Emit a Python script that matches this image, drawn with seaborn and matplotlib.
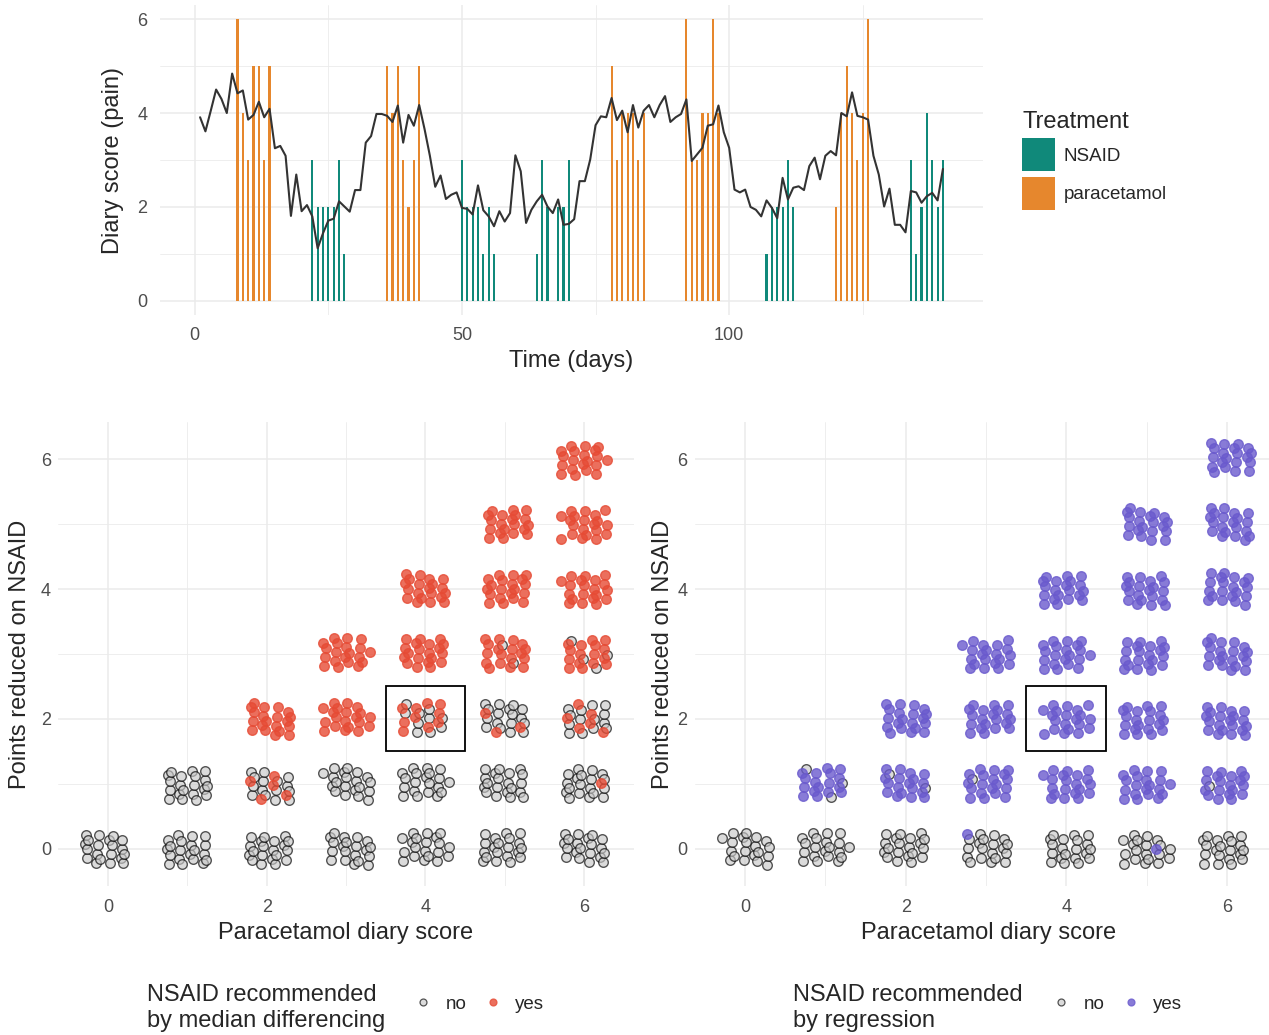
import numpy as np
import pandas as pd
import matplotlib
matplotlib.use("Agg")
import matplotlib.pyplot as plt
from matplotlib.patches import Patch, Rectangle
from matplotlib.lines import Line2D
import seaborn as sns

# ---------------- data ----------------
days = list(range(1, 141))
diary_score = [
    3.91, 3.61, 4.05, 4.50, 4.30, 4.00, 4.84, 4.42, 4.48, 3.86,
    3.96, 4.24, 3.91, 4.09, 3.25, 3.30, 3.09, 1.81, 2.69, 1.91,
    2.04, 1.80, 1.12, 1.44, 1.71, 1.75, 2.12, 2.01, 1.90, 2.36,
    2.36, 3.37, 3.51, 3.98, 3.98, 3.94, 3.81, 4.16, 3.37, 3.96,
    3.73, 4.17, 3.66, 3.09, 2.43, 2.67, 2.17, 2.26, 2.31, 1.98,
    1.96, 1.84, 2.46, 1.93, 1.80, 1.59, 1.91, 1.69, 1.87, 3.10,
    2.76, 1.66, 1.94, 2.12, 2.26, 2.01, 1.87, 2.16, 1.62, 1.64,
    1.74, 2.55, 2.55, 3.01, 3.74, 3.93, 3.91, 4.32, 3.85, 4.05,
    3.59, 4.17, 3.69, 4.05, 4.17, 3.91, 4.17, 4.36, 3.81, 3.91,
    3.98, 4.29, 2.98, 3.12, 3.26, 3.73, 3.76, 4.16, 3.59, 3.26,
    2.37, 2.31, 2.37, 2.00, 1.94, 1.80, 2.14, 1.98, 1.76, 2.62,
    2.16, 2.41, 2.44, 2.36, 2.87, 3.05, 2.59, 3.09, 3.19, 3.10,
    4.00, 3.93, 4.44, 3.94, 3.91, 3.86, 3.09, 2.69, 2.01, 2.39,
    1.62, 1.62, 1.46, 2.34, 2.31, 2.09, 2.23, 2.30, 2.14, 2.81,
]

treat_days = (list(range(8, 15)) + list(range(22, 29)) + list(range(36, 43))
              + list(range(50, 57)) + list(range(64, 71)) + list(range(78, 85))
              + list(range(92, 99)) + list(range(106, 113)) + list(range(120, 127))
              + list(range(134, 141)))
treat_scores = [6, 4, 3, 5, 5, 3, 5,
                3, 2, 2, 2, 2, 3, 1,
                5, 4, 5, 3, 2, 3, 5,
                3, 2, 2, 2, 1, 2, 1,
                1, 3, 2, 0, 2, 2, 3,
                5, 3, 4, 4, 4, 3, 4,
                6, 3, 3, 4, 4, 6, 4,
                0, 1, 2, 2, 2, 3, 2,
                2, 4, 5, 4, 3, 4, 6,
                3, 1, 2, 4, 3, 2, 3]
treat_names = (["paracetamol"] * 7 + ["NSAID"] * 7 + ["paracetamol"] * 7
               + ["NSAID"] * 7 + ["NSAID"] * 7 + ["paracetamol"] * 7
               + ["paracetamol"] * 7 + ["NSAID"] * 7 + ["paracetamol"] * 7
               + ["NSAID"] * 7)

# bottom panels: number of observations per (paracetamol score, points reduced)
cell_counts = [
    [20],
    [20, 20],
    [20, 20, 20],
    [20, 20, 20, 20],
    [20, 20, 20, 20, 20],
    [20, 20, 20, 20, 20, 20],
    [20, 20, 20, 20, 20, 20, 20],
]
yes_median = [
    [0],
    [0, 0],
    [0, 5, 20],
    [0, 0, 20, 20],
    [0, 0, 10, 20, 20],
    [0, 0, 3, 18, 20, 20],
    [0, 1, 6, 16, 20, 20, 20],
]
yes_regression = [
    [0],
    [0, 17],
    [0, 18, 20],
    [1, 19, 20, 20],
    [0, 20, 20, 20, 20],
    [1, 20, 20, 20, 20, 20],
    [0, 19, 20, 20, 20, 20, 20],
]

# ---------------- style ----------------
sns.set_theme(style="white")
plt.rcParams["font.family"] = ["Liberation Sans", "DejaVu Sans"]

W, H = 1269, 1035
fig = plt.figure(figsize=(W / 100, H / 100), dpi=100)

TEAL = "#10897A"
ORANGE = "#E6872D"
GRID = "#EBEBEB"
TICKC = "#4D4D4D"


def px_axes(l, t, r, b):
    return [l / W, 1 - b / H, (r - l) / W, (b - t) / H]


def style_axes(ax, xmaj, xmin, ymaj, ymin, tsize=13):
    ax.set_xticks(xmaj)
    ax.set_xticks(xmin, minor=True)
    ax.set_yticks(ymaj)
    ax.set_yticks(ymin, minor=True)
    ax.grid(which="major", color=GRID, lw=1.1)
    ax.grid(which="minor", color=GRID, lw=0.6)
    ax.set_axisbelow(True)
    for s in ax.spines.values():
        s.set_visible(False)
    ax.tick_params(which="both", length=0, labelsize=tsize, labelcolor=TICKC)
    ax.set_xlabel("")
    ax.set_ylabel("")


# ---------------- top panel ----------------
ax1 = fig.add_axes(px_axes(160, 5, 983, 315))
bars = pd.DataFrame({"day": treat_days, "score": treat_scores, "Treatment": treat_names})
sns.barplot(data=bars, x="day", y="score", hue="Treatment", native_scale=True,
            dodge=False, width=0.4, saturation=1, errorbar=None, linewidth=0,
            palette={"NSAID": TEAL, "paracetamol": ORANGE}, legend=False, ax=ax1)
line = pd.DataFrame({"day": days, "score": diary_score})
sns.lineplot(data=line, x="day", y="score", color="#333333", lw=1.5, ax=ax1)
ax1.set_xlim(-6.5, 147.5)
ax1.set_ylim(-0.3, 6.3)
style_axes(ax1, [0, 50, 100], [25, 75, 125], [0, 2, 4, 6], [1, 3, 5])
ax1.tick_params(axis="y", pad=9)
ax1.tick_params(axis="x", pad=9)
fig.text(113 / W, 1 - 160 / H, "Diary score (pain)", rotation=90, ha="center",
         va="center", fontsize=17)
fig.text(571 / W, 1 - 361 / H, "Time (days)", ha="center", va="center", fontsize=17)

handles = [Patch(facecolor=TEAL, edgecolor="none"), Patch(facecolor=ORANGE, edgecolor="none")]
leg = fig.legend(handles, ["NSAID", "paracetamol"], title="Treatment",
                 loc="upper left", bbox_to_anchor=(1013 / W, 1 - 102 / H),
                 frameon=False, fontsize=13.5, title_fontsize=17,
                 handlelength=1.76, handleheight=2.335, handletextpad=0.45,
                 labelspacing=0.27, borderpad=0, alignment="left")


# ---------------- bottom panels ----------------
def jitter_frame(yes_counts, shift):
    rows = []
    for p in range(len(cell_counts)):
        for r in range(len(cell_counts[p])):
            n = cell_counts[p][r]
            ny = yes_counts[p][r]
            for k in range(n):
                s = k + 1 + shift + 11 * p + 5 * r
                u = (0.5 + s * 0.7548776662) % 1.0
                v = (0.5 + s * 0.5698402910) % 1.0
                rows.append({"x": p + (u - 0.5) * 0.6,
                             "y": r + (v - 0.5) * 0.5,
                             "rec": "yes" if k < ny else "no"})
    return pd.DataFrame(rows)


def draw_panel(rect, yes_counts, color, shift, lab_x, xlab_x, title_lines,
               leg_title_x, leg_x):
    ax = fig.add_axes(px_axes(*rect))
    df = jitter_frame(yes_counts, shift)
    sns.scatterplot(data=df[df.rec == "no"], x="x", y="y", color="#C8C8C8",
                    edgecolor="black", linewidth=1.0, alpha=0.65, s=48,
                    legend=False, ax=ax)
    sns.scatterplot(data=df[df.rec == "yes"], x="x", y="y", color=color,
                    edgecolor=color, linewidth=1.0, alpha=0.8, s=48,
                    legend=False, ax=ax)
    ax.add_patch(Rectangle((3.5, 1.5), 1, 1, fill=False, ec="black", lw=1.3, zorder=5))
    ax.set_xlim(-0.63, 6.63)
    ax.set_ylim(-0.575, 6.575)
    style_axes(ax, [0, 2, 4, 6], [1, 3, 5], [0, 2, 4, 6], [1, 3, 5])
    ax.tick_params(axis="y", pad=5)
    ax.tick_params(axis="x", pad=9)
    fig.text(lab_x / W, 1 - 654 / H, "Points reduced on NSAID", rotation=90,
             ha="center", va="center", fontsize=17)
    fig.text(xlab_x / W, 1 - 933 / H, "Paracetamol diary score",
             ha="center", va="center", fontsize=17)
    fig.text(leg_title_x / W, 1 - 1008 / H, title_lines, ha="left", va="center",
             fontsize=17, linespacing=1.18)
    h = [Line2D([], [], ls="none", marker="o", ms=5, mfc="#C8C8C8", mec="black",
                mew=0.9, alpha=0.65),
         Line2D([], [], ls="none", marker="o", ms=5, mfc=color, mec=color,
                mew=0.9, alpha=0.8)]
    fig.legend(h, ["no", "yes"], loc="center left",
               bbox_to_anchor=(leg_x / W, 1 - 1004 / H), ncol=2, frameon=False,
               fontsize=13.5, handlelength=0.6, handletextpad=0.9,
               columnspacing=1.1, borderpad=0)
    return ax


draw_panel((58, 422, 634, 886), yes_median, "#E64B35", 0, 20, 346,
           "NSAID recommended\nby median differencing", 147, 408)
draw_panel((694.5, 422, 1277.5, 886), yes_regression, "#6A5ACD", 37, 663, 989,
           "NSAID recommended\nby regression", 793, 1046)

fig.savefig("out.png", dpi=100)
